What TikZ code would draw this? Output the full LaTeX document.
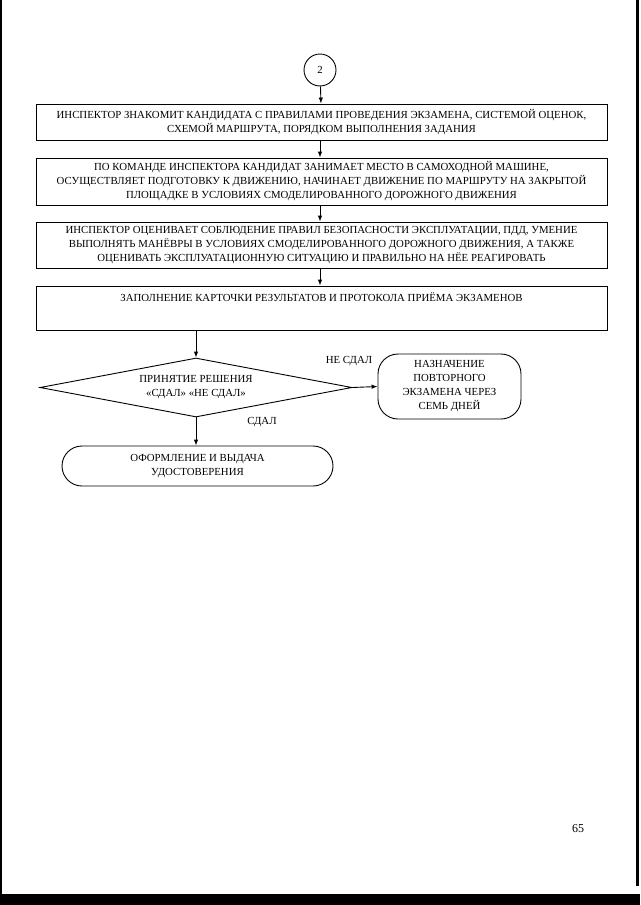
\documentclass[tikz,border=0pt]{standalone}
\usepackage{fontspec}
\setmainfont{Liberation Serif}
\usetikzlibrary{shapes.geometric,arrows.meta}
\begin{document}
\begin{tikzpicture}[x=1pt,y=-1pt,
    every node/.style={font=\fontsize{10.8}{14}\selectfont, align=center},
    >={Latex[length=6pt,width=4.5pt]},
    line width=0.9pt,
    stepbox/.style={draw, minimum width=571, inner sep=0pt},
    circ/.style={draw, circle, minimum size=32, inner sep=0pt},
    choice/.style={draw, diamond, aspect=5.3, minimum width=312, minimum height=59, inner sep=0pt},
    term/.style={draw, rounded corners=20, inner sep=0pt}]
      \useasboundingbox (0,0) rectangle (640,905);
      \fill (0,894) rectangle (640,905);
      \fill (0,0) rectangle (2,905);
      \fill (636,0) rectangle (639,886);
      \node[circ] (c2) at (320,70) {2};
      \node[stepbox, minimum height=36] (b1) at (321.5,122) {ИНСПЕКТОР ЗНАКОМИТ КАНДИДАТА С ПРАВИЛАМИ ПРОВЕДЕНИЯ ЭКЗАМЕНА, СИСТЕМОЙ ОЦЕНОК,\\ СХЕМОЙ МАРШРУТА, ПОРЯДКОМ ВЫПОЛНЕНИЯ ЗАДАНИЯ};
      \node[stepbox, minimum height=47] (b2) at (321.5,181.5) {ПО КОМАНДЕ ИНСПЕКТОРА КАНДИДАТ ЗАНИМАЕТ МЕСТО В САМОХОДНОЙ МАШИНЕ,\\ ОСУЩЕСТВЛЯЕТ ПОДГОТОВКУ К ДВИЖЕНИЮ, НАЧИНАЕТ ДВИЖЕНИЕ ПО МАРШРУТУ НА ЗАКРЫТОЙ\\ ПЛОЩАДКЕ В УСЛОВИЯХ СМОДЕЛИРОВАННОГО ДОРОЖНОГО ДВИЖЕНИЯ};
      \node[stepbox, minimum height=46] (b3) at (321.5,245) {ИНСПЕКТОР ОЦЕНИВАЕТ СОБЛЮДЕНИЕ ПРАВИЛ БЕЗОПАСНОСТИ ЭКСПЛУАТАЦИИ, ПДД, УМЕНИЕ\\ ВЫПОЛНЯТЬ МАНЁВРЫ В УСЛОВИЯХ СМОДЕЛИРОВАННОГО ДОРОЖНОГО ДВИЖЕНИЯ, А ТАКЖЕ\\ ОЦЕНИВАТЬ ЭКСПЛУАТАЦИОННУЮ СИТУАЦИЮ И ПРАВИЛЬНО НА НЁЕ РЕАГИРОВАТЬ};
      \node[stepbox, minimum height=44] (b4) at (321.5,308) {ЗАПОЛНЕНИЕ КАРТОЧКИ РЕЗУЛЬТАТОВ И ПРОТОКОЛА ПРИЁМА ЭКЗАМЕНОВ\\[8pt] \mbox{}};
      \node[choice] (dec) at (196,387.5) {ПРИНЯТИЕ РЕШЕНИЯ\\ «СДАЛ» «НЕ СДАЛ»};
      \node[term, minimum width=143, minimum height=65] (rep) at (449.5,386.5) {НАЗНАЧЕНИЕ\\ ПОВТОРНОГО\\ ЭКЗАМЕНА ЧЕРЕЗ\\ СЕМЬ ДНЕЙ};
      \node[term, minimum width=271, minimum height=40] (iss) at (197.5,466) {ОФОРМЛЕНИЕ И ВЫДАЧА\\ УДОСТОВЕРЕНИЯ};
      \node (fail) at (349,361) {НЕ СДАЛ};
      \node (pass) at (262,422) {СДАЛ};
      \node[font=\fontsize{12}{14}\selectfont] (page) at (578,829) {65};
      \draw[->] (c2) -- (b1);
      \draw[->] (b1.south -| c2) -- (b2.north -| c2);
      \draw[->] (b2.south -| c2) -- (b3.north -| c2);
      \draw[->] (b3.south -| c2) -- (b4.north -| c2);
      \draw[->] (b4.south -| dec.north) -- (dec.north);
      \draw[->] (dec.east) -- (rep.west);
      \draw[->] (dec.south) -- (dec.south |- iss.north);
\end{tikzpicture}
\end{document}
